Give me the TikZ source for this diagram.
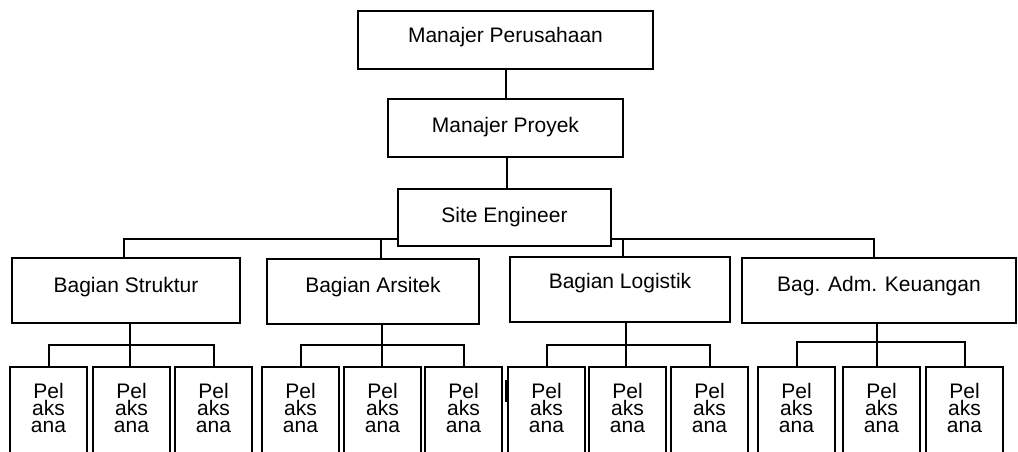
\documentclass[tikz,border=0pt]{standalone}
\usepackage{fontspec}
\setmainfont{Liberation Sans}
\begin{document}
\begin{tikzpicture}[x=1pt,y=-1pt, line width=2pt,
  lbl/.style={font=\fontsize{21}{17}\selectfont},
  box/.style n args={4}{draw, lbl, inner sep=0pt, outer sep=0pt, anchor=north west,
    minimum width=#1, minimum height=#2, text height=#3, text depth=#4},
  pbox/.style={draw, inner sep=0pt, outer sep=0pt, anchor=north west,
    minimum width=77pt, minimum height=130pt},
  ptext/.style={lbl, align=center, anchor=north, inner sep=0pt}]
\useasboundingbox (0,0) rectangle (1018,452);
\clip (0,0) rectangle (1018,452);
% top levels
\node[box={295pt}{58pt}{32pt}{26pt}] (MP) at (358,11) {Manajer Perusahaan};
\node[box={235pt}{58pt}{33pt}{25pt}] (MPr) at (388,99) {Manajer Proyek};
\node[box={213pt}{57pt}{33pt}{24pt}] (SE) at (398,189) {Site Engineer};
% departments
\node[box={228pt}{65pt}{34pt}{31pt}] (BS) at (12,258) {Bagian Struktur};
\node[box={212pt}{65pt}{33pt}{32pt}] (BA) at (267,259) {Bagian Arsitek};
\node[box={220pt}{65pt}{31pt}{34pt}] (BL) at (510,257) {Bagian Logistik};
\node[box={274pt}{65pt}{33pt}{32pt}] (BK) at (742,258) {Bag. Adm. Keuangan};
% connectors top
\draw (MP.south) -- (MPr.north);
\draw ([xshift=1.5pt]MPr.south) -- ([xshift=1.5pt]MPr.south |- SE.north);
\draw ([yshift=7pt]SE.south west) -| ([xshift=-2pt]BS.north);
\draw ([yshift=7pt]SE.south west) -| ([xshift=8pt]BA.north);
\draw ([yshift=7pt]SE.south east) -| ([xshift=3pt]BL.north);
\draw ([yshift=7pt]SE.south east) -| ([xshift=-5pt]BK.north);
% pelaksana boxes
\foreach \g/\xa/\xb/\xc in {S/10/93/175, A/262/344/425, L/508/589/671, K/758/843/926}{
  \foreach \i/\x in {1/\xa,2/\xb,3/\xc}{
    \node[pbox] (p\g\i) at (\x,367) {};
    \node[ptext] (t\g\i) at ([yshift=-15pt]p\g\i.north) {Pel\\aks\\ana};
  }
}
% connectors to pelaksana
\foreach \g/\pa/\dx/\by in {S/BS/4/345, A/BA/9/345, L/BL/6/345, K/BK/-2.5/342}{
  \draw ([xshift=\dx pt]\pa.south) -- ([xshift=\dx pt]\pa.south |- p\g2.north);
  \draw (p\g1.north) |- ([xshift=\dx pt]\pa.south |- 0,\by) -| (p\g3.north);
}
% small mark
\draw[line width=2.5pt] (506,380) -- (506,402);
\end{tikzpicture}
\end{document}
